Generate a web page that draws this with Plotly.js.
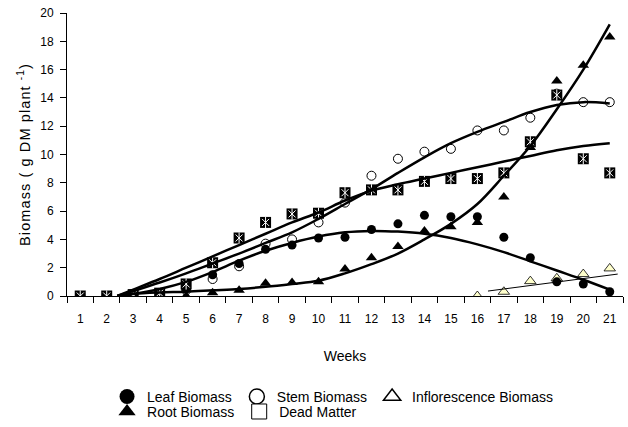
<!DOCTYPE html>
<html>
<head>
<meta charset="utf-8">
<script src="https://cdn.plot.ly/plotly-3.0.1.min.js"></script>
<style>
html,body{margin:0;padding:0;background:#fff;}
#chart{width:628px;height:427px;}
.ytitle{letter-spacing:1.1px;}
</style>
</head>
<body>
<div id="chart"></div>
<script>
// ---- data ----
var weeks = [1,2,3,4,5,6,7,8,9,10,11,12,13,14,15,16,17,18,19,20,21];
var weekLabels = ["1","2","3","4","5","6","7","8","9","10","11","12","13","14","15","16","17","18","19","20","21"];
var leafBiomass = [0,0,0,0,0.5,1.5,2.3,3.3,3.6,4.1,4.15,4.7,5.1,5.7,5.6,5.6,4.15,2.7,1.0,0.85,0.3];
var stemBiomass = [0,0,0.1,0,0.4,1.2,2.1,3.7,4.0,5.2,6.6,8.5,9.7,10.2,10.4,11.7,11.7,12.6,14.3,13.7,13.7];
var rootBiomass = [0,0,0,0,0,0.23,0.4,0.9,0.95,1.0,1.9,2.7,3.5,4.6,4.9,5.2,7.0,10.5,15.2,16.3,18.3];
var deadMatter = [0,0,0.1,0.2,0.85,2.35,4.1,5.2,5.8,5.85,7.3,7.5,7.5,8.1,8.3,8.3,8.7,10.9,14.2,9.7,8.7];
var inflWeeks = [16,17,18,19,20,21];
var inflBiomass = [0,0.3,1.05,1.25,1.55,1.95];

// trend lines
var trendWeeks = [2.4,3,4,5,6,7,8,9,10,11,12,13,14,15,16,17,18,19,20,21];
var deadTrend = [0,0.45,1.2,2.0,2.8,3.6,4.4,5.2,5.9,6.75,7.45,7.9,8.3,8.7,9.1,9.5,9.9,10.3,10.6,10.8];
var stemTrend = [0,0.35,0.95,1.6,2.3,3.0,3.75,4.5,5.45,6.5,7.55,8.7,9.8,10.8,11.6,12.3,13.0,13.5,13.7,13.6];
var leafTrend = [0,0.15,0.5,1.0,1.7,2.5,3.2,3.75,4.2,4.5,4.6,4.55,4.4,4.1,3.65,3.1,2.45,1.8,1.15,0.45];
var rootTrend = [0,0.15,0.25,0.3,0.4,0.5,0.65,0.85,1.08,1.6,2.25,3.0,4.0,5.1,6.5,8.5,10.6,13.2,16.0,19.2];
var inflTrendWeeks = [16.4,21.3];
var inflTrend = [0.35,1.55];

var seriesNames = ["Leaf Biomass","Stem Biomass","Inflorescence Biomass","Root Biomass","Dead Matter"];

var FONT = "Liberation Sans, Arial, sans-serif";

function pts(x, y, sym, size, fill, lc, lw) {
  return {x:x, y:y, type:'scatter', mode:'markers', showlegend:false, hoverinfo:'x+y',
    marker:{symbol:sym, size:size, color:fill, line:{color:lc, width:lw}}};
}
function trend(x, y, w) {
  return {x:x, y:y, type:'scatter', mode:'lines', showlegend:false, hoverinfo:'skip',
    line:{color:'#000', width:w, shape:'spline', smoothing:1}};
}
function legItem(name, sym, fill, lw, lg) {
  return {x:[null], y:[null], type:'scatter', mode:'markers', name:name, legend:lg,
    marker:{symbol:sym, size:15, color:fill, line:{color:'#000', width:lw}}};
}

var traces = [
  pts(inflWeeks, inflBiomass, 'triangle-up', 10, '#ffffcc', '#000', 0.8),
  pts(weeks, stemBiomass, 'circle', 9, '#fff', '#000', 1),
  pts(weeks, leafBiomass, 'circle', 9, '#000', '#000', 0),
  pts(weeks, rootBiomass, 'triangle-up', 10, '#000', '#000', 0),
  pts(weeks, deadMatter, 'square', 11, '#000', '#000', 0),
  pts(weeks, deadMatter, 'x-thin-open', 7, '#fff', '#fff', 1),
  pts(weeks, deadMatter, 'line-ns-open', 8, '#fff', '#fff', 1),
  trend(trendWeeks, deadTrend, 2.5),
  trend(trendWeeks, stemTrend, 2.5),
  trend(trendWeeks, leafTrend, 2.5),
  trend(trendWeeks, rootTrend, 2.5),
  {x:inflTrendWeeks, y:inflTrend, type:'scatter', mode:'lines', showlegend:false, hoverinfo:'skip',
    line:{color:'#000', width:1}},
  legItem(seriesNames[0], 'circle', '#000', 0, 'legend'),
  legItem(seriesNames[1], 'circle', '#fff', 1.5, 'legend'),
  legItem(seriesNames[2], 'triangle-up', '#fff', 1.5, 'legend'),
  legItem(seriesNames[3], 'triangle-up', '#000', 0, 'legend2'),
  legItem(seriesNames[4], 'square', '#fff', 1, 'legend2')
];

var layout = {
  width:628, height:427,
  margin:{l:67, r:5, t:13, b:131, autoexpand:false},
  paper_bgcolor:'#fff', plot_bgcolor:'#fff',
  font:{family:FONT, color:'#000', size:12},
  xaxis:{
    range:[0.5,21.5], tickmode:'array', tickvals:weeks, ticktext:weekLabels,
    ticks:'', showgrid:false, zeroline:false, showline:true, linecolor:'#000', linewidth:1,
    tickfont:{size:12, family:FONT}, ticklabelstandoff:12,
    minor:{tick0:0.5, dtick:1, ticks:'outside', ticklen:6, tickcolor:'#000', tickwidth:1, showgrid:false},
    title:{text:'Weeks', font:{size:14, family:FONT}, standoff:25}
  },
  yaxis:{
    range:[0,20], dtick:2, tick0:0, ticks:'outside', ticklen:6, tickcolor:'#000',
    showgrid:false, zeroline:false, showline:true, linecolor:'#000', linewidth:1,
    tickfont:{size:12, family:FONT}, ticklabelstandoff:4,
    title:{text:'Biomass ( g DM plant <sup>-1</sup>)', font:{size:14.5, family:FONT}, standoff:6}
  },
  legend:{orientation:'h', x:0.072, xanchor:'left', y:-0.30, yanchor:'top',
    font:{size:14, family:FONT}, bgcolor:'rgba(0,0,0,0)', itemclick:false, itemdoubleclick:false},
  legend2:{orientation:'h', x:0.072, xanchor:'left', y:-0.353, yanchor:'top',
    font:{size:14, family:FONT}, bgcolor:'rgba(0,0,0,0)', itemclick:false, itemdoubleclick:false},
  showlegend:true
};

Plotly.newPlot('chart', traces, layout, {displayModeBar:false, staticPlot:true});
</script>
</body>
</html>
